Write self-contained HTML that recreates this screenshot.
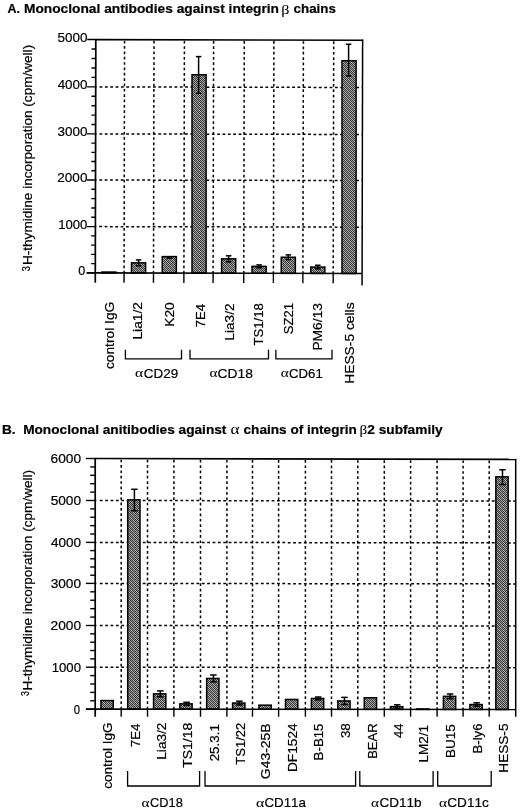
<!DOCTYPE html>
<html><head><meta charset="utf-8"><title>Monoclonal antibodies against integrin chains</title>
<style>html,body{margin:0;padding:0;background:#fff;width:520px;height:810px;overflow:hidden}svg{display:block}text{font-kerning:none}</style>
</head><body>
<svg width="520" height="810" viewBox="0 0 520 810">
<defs>
<pattern id="hatch" patternUnits="userSpaceOnUse" width="4" height="4">
<rect width="4" height="4" fill="#383838"/>
<rect x="1" y="0" width="1" height="1" fill="#b4b4b4"/>
<rect x="3" y="0" width="1" height="1" fill="#989898"/>
<rect x="0" y="1" width="1" height="1" fill="#989898"/>
<rect x="2" y="1" width="1" height="1" fill="#b4b4b4"/>
<rect x="1" y="2" width="1" height="1" fill="#989898"/>
<rect x="3" y="2" width="1" height="1" fill="#b4b4b4"/>
<rect x="0" y="3" width="1" height="1" fill="#b4b4b4"/>
<rect x="2" y="3" width="1" height="1" fill="#989898"/>
</pattern>
</defs>
<rect width="520" height="810" fill="#fff"/>
<g shape-rendering="auto">
<g transform="rotate(0.125 95.30 272.90)">
<line x1="99.15" y1="226.60" x2="362.10" y2="226.60" stroke="#000" stroke-width="1.50" stroke-dasharray="2.8 2.55"/>
<line x1="99.15" y1="180.00" x2="362.10" y2="180.00" stroke="#000" stroke-width="1.50" stroke-dasharray="2.8 2.55"/>
<line x1="99.15" y1="133.90" x2="362.10" y2="133.90" stroke="#000" stroke-width="1.50" stroke-dasharray="2.8 2.55"/>
<line x1="99.15" y1="86.90" x2="362.10" y2="86.90" stroke="#000" stroke-width="1.50" stroke-dasharray="2.8 2.55"/>
<line x1="124.05" y1="40.70" x2="124.05" y2="272.90" stroke="#000" stroke-width="1.50" stroke-dasharray="2.7 2.65"/>
<line x1="153.50" y1="40.70" x2="153.50" y2="272.90" stroke="#000" stroke-width="1.50" stroke-dasharray="2.7 2.65"/>
<line x1="183.90" y1="40.70" x2="183.90" y2="272.90" stroke="#000" stroke-width="1.50" stroke-dasharray="2.7 2.65"/>
<line x1="213.10" y1="40.70" x2="213.10" y2="272.90" stroke="#000" stroke-width="1.50" stroke-dasharray="2.7 2.65"/>
<line x1="243.75" y1="40.70" x2="243.75" y2="272.90" stroke="#000" stroke-width="1.50" stroke-dasharray="2.7 2.65"/>
<line x1="273.40" y1="40.70" x2="273.40" y2="272.90" stroke="#000" stroke-width="1.50" stroke-dasharray="2.7 2.65"/>
<line x1="302.90" y1="40.70" x2="302.90" y2="272.90" stroke="#000" stroke-width="1.50" stroke-dasharray="2.7 2.65"/>
<line x1="333.20" y1="40.70" x2="333.20" y2="272.90" stroke="#000" stroke-width="1.50" stroke-dasharray="2.7 2.65"/>
<line x1="95.30" y1="39.60" x2="362.70" y2="39.60" stroke="#000" stroke-width="1.60"/>
<line x1="362.10" y1="39.00" x2="362.10" y2="284.90" stroke="#000" stroke-width="1.50"/>
</g>
<rect x="101.80" y="272.05" width="14.10" height="0.88" fill="url(#hatch)" stroke="#000" stroke-width="1.50"/>
<rect x="131.50" y="262.85" width="14.10" height="10.14" fill="url(#hatch)" stroke="#000" stroke-width="1.50"/>
<rect x="162.25" y="256.60" width="14.10" height="16.46" fill="url(#hatch)" stroke="#000" stroke-width="1.50"/>
<rect x="192.00" y="74.75" width="14.10" height="198.38" fill="url(#hatch)" stroke="#000" stroke-width="1.50"/>
<rect x="221.60" y="258.85" width="14.10" height="14.34" fill="url(#hatch)" stroke="#000" stroke-width="1.50"/>
<rect x="252.05" y="266.35" width="14.10" height="6.91" fill="url(#hatch)" stroke="#000" stroke-width="1.50"/>
<rect x="281.25" y="257.25" width="14.10" height="16.07" fill="url(#hatch)" stroke="#000" stroke-width="1.50"/>
<rect x="310.75" y="267.05" width="14.10" height="6.34" fill="url(#hatch)" stroke="#000" stroke-width="1.50"/>
<rect x="342.00" y="60.75" width="14.10" height="212.70" fill="url(#hatch)" stroke="#000" stroke-width="1.50"/>
<line x1="138.55" y1="259.90" x2="138.55" y2="265.80" stroke="#000" stroke-width="1.50"/>
<line x1="135.80" y1="259.90" x2="141.30" y2="259.90" stroke="#000" stroke-width="1.50"/>
<line x1="135.80" y1="265.80" x2="141.30" y2="265.80" stroke="#000" stroke-width="1.50"/>
<line x1="169.30" y1="256.60" x2="169.30" y2="258.10" stroke="#000" stroke-width="1.50"/>
<line x1="166.55" y1="258.10" x2="172.05" y2="258.10" stroke="#000" stroke-width="1.50"/>
<line x1="198.60" y1="56.60" x2="198.60" y2="93.30" stroke="#000" stroke-width="1.50"/>
<line x1="195.85" y1="56.60" x2="201.35" y2="56.60" stroke="#000" stroke-width="1.50"/>
<line x1="195.85" y1="93.30" x2="201.35" y2="93.30" stroke="#000" stroke-width="1.50"/>
<line x1="228.65" y1="255.80" x2="228.65" y2="261.90" stroke="#000" stroke-width="1.50"/>
<line x1="225.90" y1="255.80" x2="231.40" y2="255.80" stroke="#000" stroke-width="1.50"/>
<line x1="225.90" y1="261.90" x2="231.40" y2="261.90" stroke="#000" stroke-width="1.50"/>
<line x1="259.10" y1="264.90" x2="259.10" y2="267.80" stroke="#000" stroke-width="1.50"/>
<line x1="256.35" y1="264.90" x2="261.85" y2="264.90" stroke="#000" stroke-width="1.50"/>
<line x1="256.35" y1="267.80" x2="261.85" y2="267.80" stroke="#000" stroke-width="1.50"/>
<line x1="288.30" y1="254.90" x2="288.30" y2="259.60" stroke="#000" stroke-width="1.50"/>
<line x1="285.55" y1="254.90" x2="291.05" y2="254.90" stroke="#000" stroke-width="1.50"/>
<line x1="285.55" y1="259.60" x2="291.05" y2="259.60" stroke="#000" stroke-width="1.50"/>
<line x1="317.80" y1="265.25" x2="317.80" y2="268.85" stroke="#000" stroke-width="1.50"/>
<line x1="315.05" y1="265.25" x2="320.55" y2="265.25" stroke="#000" stroke-width="1.50"/>
<line x1="315.05" y1="268.85" x2="320.55" y2="268.85" stroke="#000" stroke-width="1.50"/>
<line x1="348.60" y1="44.25" x2="348.60" y2="76.00" stroke="#000" stroke-width="1.50"/>
<line x1="345.85" y1="44.25" x2="351.35" y2="44.25" stroke="#000" stroke-width="1.50"/>
<line x1="345.85" y1="76.00" x2="351.35" y2="76.00" stroke="#000" stroke-width="1.50"/>
<g transform="rotate(0.125 95.30 272.90)">
<line x1="95.30" y1="39.00" x2="95.30" y2="282.70" stroke="#000" stroke-width="1.70"/>
<line x1="86.70" y1="272.90" x2="362.10" y2="272.90" stroke="#000" stroke-width="1.70"/>
<line x1="86.70" y1="272.90" x2="96.30" y2="272.90" stroke="#000" stroke-width="1.40"/>
<line x1="91.10" y1="263.64" x2="95.30" y2="263.64" stroke="#000" stroke-width="1.40"/>
<line x1="91.10" y1="254.38" x2="95.30" y2="254.38" stroke="#000" stroke-width="1.40"/>
<line x1="91.10" y1="245.12" x2="95.30" y2="245.12" stroke="#000" stroke-width="1.40"/>
<line x1="91.10" y1="235.86" x2="95.30" y2="235.86" stroke="#000" stroke-width="1.40"/>
<line x1="86.70" y1="226.60" x2="96.30" y2="226.60" stroke="#000" stroke-width="1.40"/>
<line x1="91.10" y1="217.28" x2="95.30" y2="217.28" stroke="#000" stroke-width="1.40"/>
<line x1="91.10" y1="207.96" x2="95.30" y2="207.96" stroke="#000" stroke-width="1.40"/>
<line x1="91.10" y1="198.64" x2="95.30" y2="198.64" stroke="#000" stroke-width="1.40"/>
<line x1="91.10" y1="189.32" x2="95.30" y2="189.32" stroke="#000" stroke-width="1.40"/>
<line x1="86.70" y1="180.00" x2="96.30" y2="180.00" stroke="#000" stroke-width="1.40"/>
<line x1="91.10" y1="170.78" x2="95.30" y2="170.78" stroke="#000" stroke-width="1.40"/>
<line x1="91.10" y1="161.56" x2="95.30" y2="161.56" stroke="#000" stroke-width="1.40"/>
<line x1="91.10" y1="152.34" x2="95.30" y2="152.34" stroke="#000" stroke-width="1.40"/>
<line x1="91.10" y1="143.12" x2="95.30" y2="143.12" stroke="#000" stroke-width="1.40"/>
<line x1="86.70" y1="133.90" x2="96.30" y2="133.90" stroke="#000" stroke-width="1.40"/>
<line x1="91.10" y1="124.50" x2="95.30" y2="124.50" stroke="#000" stroke-width="1.40"/>
<line x1="91.10" y1="115.10" x2="95.30" y2="115.10" stroke="#000" stroke-width="1.40"/>
<line x1="91.10" y1="105.70" x2="95.30" y2="105.70" stroke="#000" stroke-width="1.40"/>
<line x1="91.10" y1="96.30" x2="95.30" y2="96.30" stroke="#000" stroke-width="1.40"/>
<line x1="86.70" y1="86.90" x2="96.30" y2="86.90" stroke="#000" stroke-width="1.40"/>
<line x1="91.10" y1="77.42" x2="95.30" y2="77.42" stroke="#000" stroke-width="1.40"/>
<line x1="91.10" y1="67.94" x2="95.30" y2="67.94" stroke="#000" stroke-width="1.40"/>
<line x1="91.10" y1="58.46" x2="95.30" y2="58.46" stroke="#000" stroke-width="1.40"/>
<line x1="91.10" y1="48.98" x2="95.30" y2="48.98" stroke="#000" stroke-width="1.40"/>
<line x1="86.70" y1="39.50" x2="96.30" y2="39.50" stroke="#000" stroke-width="1.40"/>
<line x1="124.05" y1="272.90" x2="124.05" y2="282.70" stroke="#000" stroke-width="1.40"/>
<line x1="153.50" y1="272.90" x2="153.50" y2="282.70" stroke="#000" stroke-width="1.40"/>
<line x1="183.90" y1="272.90" x2="183.90" y2="282.70" stroke="#000" stroke-width="1.40"/>
<line x1="213.10" y1="272.90" x2="213.10" y2="282.70" stroke="#000" stroke-width="1.40"/>
<line x1="243.75" y1="272.90" x2="243.75" y2="282.70" stroke="#000" stroke-width="1.40"/>
<line x1="273.40" y1="272.90" x2="273.40" y2="282.70" stroke="#000" stroke-width="1.40"/>
<line x1="302.90" y1="272.90" x2="302.90" y2="282.70" stroke="#000" stroke-width="1.40"/>
<line x1="333.20" y1="272.90" x2="333.20" y2="282.70" stroke="#000" stroke-width="1.40"/>
</g>
<line x1="99.80" y1="667.20" x2="515.70" y2="667.70" stroke="#000" stroke-width="1.50" stroke-dasharray="2.8 2.57"/>
<line x1="99.80" y1="625.50" x2="515.70" y2="626.00" stroke="#000" stroke-width="1.50" stroke-dasharray="2.8 2.57"/>
<line x1="99.80" y1="583.40" x2="515.70" y2="583.90" stroke="#000" stroke-width="1.50" stroke-dasharray="2.8 2.57"/>
<line x1="99.80" y1="542.40" x2="515.70" y2="542.90" stroke="#000" stroke-width="1.50" stroke-dasharray="2.8 2.57"/>
<line x1="99.80" y1="500.50" x2="515.70" y2="501.00" stroke="#000" stroke-width="1.50" stroke-dasharray="2.8 2.57"/>
<line x1="121.20" y1="459.66" x2="121.20" y2="709.20" stroke="#000" stroke-width="1.50" stroke-dasharray="2.7 2.67"/>
<line x1="147.50" y1="459.71" x2="147.50" y2="709.20" stroke="#000" stroke-width="1.50" stroke-dasharray="2.7 2.67"/>
<line x1="173.90" y1="459.77" x2="173.90" y2="709.20" stroke="#000" stroke-width="1.50" stroke-dasharray="2.7 2.67"/>
<line x1="200.50" y1="459.83" x2="200.50" y2="709.20" stroke="#000" stroke-width="1.50" stroke-dasharray="2.7 2.67"/>
<line x1="226.90" y1="459.88" x2="226.90" y2="709.20" stroke="#000" stroke-width="1.50" stroke-dasharray="2.7 2.67"/>
<line x1="252.50" y1="459.94" x2="252.50" y2="709.20" stroke="#000" stroke-width="1.50" stroke-dasharray="2.7 2.67"/>
<line x1="278.60" y1="459.99" x2="278.60" y2="709.20" stroke="#000" stroke-width="1.50" stroke-dasharray="2.7 2.67"/>
<line x1="305.40" y1="460.05" x2="305.40" y2="709.20" stroke="#000" stroke-width="1.50" stroke-dasharray="2.7 2.67"/>
<line x1="331.50" y1="460.11" x2="331.50" y2="709.20" stroke="#000" stroke-width="1.50" stroke-dasharray="2.7 2.67"/>
<line x1="357.80" y1="460.16" x2="357.80" y2="709.20" stroke="#000" stroke-width="1.50" stroke-dasharray="2.7 2.67"/>
<line x1="384.30" y1="460.22" x2="384.30" y2="709.20" stroke="#000" stroke-width="1.50" stroke-dasharray="2.7 2.67"/>
<line x1="410.60" y1="460.28" x2="410.60" y2="709.20" stroke="#000" stroke-width="1.50" stroke-dasharray="2.7 2.67"/>
<line x1="437.10" y1="460.33" x2="437.10" y2="709.20" stroke="#000" stroke-width="1.50" stroke-dasharray="2.7 2.67"/>
<line x1="463.10" y1="460.39" x2="463.10" y2="709.20" stroke="#000" stroke-width="1.50" stroke-dasharray="2.7 2.67"/>
<line x1="489.20" y1="460.44" x2="489.20" y2="709.20" stroke="#000" stroke-width="1.50" stroke-dasharray="2.7 2.67"/>
<line x1="95.20" y1="458.50" x2="516.30" y2="459.40" stroke="#000" stroke-width="1.60"/>
<line x1="515.70" y1="458.80" x2="515.70" y2="716.70" stroke="#000" stroke-width="1.50"/>
<rect x="100.95" y="700.55" width="12.30" height="8.56" fill="url(#hatch)" stroke="#000" stroke-width="1.50"/>
<rect x="127.70" y="499.85" width="12.30" height="209.29" fill="url(#hatch)" stroke="#000" stroke-width="1.50"/>
<rect x="153.55" y="693.85" width="12.30" height="15.31" fill="url(#hatch)" stroke="#000" stroke-width="1.50"/>
<rect x="179.85" y="703.85" width="12.30" height="5.34" fill="url(#hatch)" stroke="#000" stroke-width="1.50"/>
<rect x="206.65" y="678.45" width="12.30" height="30.76" fill="url(#hatch)" stroke="#000" stroke-width="1.50"/>
<rect x="232.60" y="703.05" width="12.30" height="6.19" fill="url(#hatch)" stroke="#000" stroke-width="1.50"/>
<rect x="258.95" y="705.15" width="12.30" height="4.11" fill="url(#hatch)" stroke="#000" stroke-width="1.50"/>
<rect x="285.50" y="699.45" width="12.30" height="9.84" fill="url(#hatch)" stroke="#000" stroke-width="1.50"/>
<rect x="311.40" y="698.45" width="12.30" height="10.86" fill="url(#hatch)" stroke="#000" stroke-width="1.50"/>
<rect x="337.75" y="700.95" width="12.30" height="8.39" fill="url(#hatch)" stroke="#000" stroke-width="1.50"/>
<rect x="364.25" y="697.75" width="12.30" height="11.61" fill="url(#hatch)" stroke="#000" stroke-width="1.50"/>
<rect x="390.45" y="706.65" width="12.30" height="2.74" fill="url(#hatch)" stroke="#000" stroke-width="1.50"/>
<rect x="416.70" y="708.95" width="12.30" height="0.46" fill="url(#hatch)" stroke="#000" stroke-width="1.50"/>
<rect x="443.40" y="696.35" width="12.30" height="13.09" fill="url(#hatch)" stroke="#000" stroke-width="1.50"/>
<rect x="469.90" y="704.55" width="12.30" height="4.91" fill="url(#hatch)" stroke="#000" stroke-width="1.50"/>
<rect x="495.85" y="476.85" width="12.30" height="232.64" fill="url(#hatch)" stroke="#000" stroke-width="1.50"/>
<line x1="134.40" y1="489.30" x2="134.40" y2="510.80" stroke="#000" stroke-width="1.50"/>
<line x1="131.15" y1="489.30" x2="137.65" y2="489.30" stroke="#000" stroke-width="1.50"/>
<line x1="131.15" y1="510.80" x2="137.65" y2="510.80" stroke="#000" stroke-width="1.50"/>
<line x1="160.30" y1="690.90" x2="160.30" y2="696.80" stroke="#000" stroke-width="1.50"/>
<line x1="157.05" y1="690.90" x2="163.55" y2="690.90" stroke="#000" stroke-width="1.50"/>
<line x1="157.05" y1="696.80" x2="163.55" y2="696.80" stroke="#000" stroke-width="1.50"/>
<line x1="186.60" y1="702.30" x2="186.60" y2="705.40" stroke="#000" stroke-width="1.50"/>
<line x1="183.35" y1="702.30" x2="189.85" y2="702.30" stroke="#000" stroke-width="1.50"/>
<line x1="183.35" y1="705.40" x2="189.85" y2="705.40" stroke="#000" stroke-width="1.50"/>
<line x1="213.40" y1="675.00" x2="213.40" y2="681.90" stroke="#000" stroke-width="1.50"/>
<line x1="210.15" y1="675.00" x2="216.65" y2="675.00" stroke="#000" stroke-width="1.50"/>
<line x1="210.15" y1="681.90" x2="216.65" y2="681.90" stroke="#000" stroke-width="1.50"/>
<line x1="239.35" y1="701.20" x2="239.35" y2="704.90" stroke="#000" stroke-width="1.50"/>
<line x1="236.10" y1="701.20" x2="242.60" y2="701.20" stroke="#000" stroke-width="1.50"/>
<line x1="236.10" y1="704.90" x2="242.60" y2="704.90" stroke="#000" stroke-width="1.50"/>
<line x1="318.15" y1="697.00" x2="318.15" y2="699.90" stroke="#000" stroke-width="1.50"/>
<line x1="314.90" y1="697.00" x2="321.40" y2="697.00" stroke="#000" stroke-width="1.50"/>
<line x1="314.90" y1="699.90" x2="321.40" y2="699.90" stroke="#000" stroke-width="1.50"/>
<line x1="344.50" y1="697.40" x2="344.50" y2="704.50" stroke="#000" stroke-width="1.50"/>
<line x1="341.25" y1="697.40" x2="347.75" y2="697.40" stroke="#000" stroke-width="1.50"/>
<line x1="341.25" y1="704.50" x2="347.75" y2="704.50" stroke="#000" stroke-width="1.50"/>
<line x1="397.20" y1="704.80" x2="397.20" y2="708.50" stroke="#000" stroke-width="1.50"/>
<line x1="393.95" y1="704.80" x2="400.45" y2="704.80" stroke="#000" stroke-width="1.50"/>
<line x1="393.95" y1="708.50" x2="400.45" y2="708.50" stroke="#000" stroke-width="1.50"/>
<line x1="450.15" y1="694.00" x2="450.15" y2="698.70" stroke="#000" stroke-width="1.50"/>
<line x1="446.90" y1="694.00" x2="453.40" y2="694.00" stroke="#000" stroke-width="1.50"/>
<line x1="446.90" y1="698.70" x2="453.40" y2="698.70" stroke="#000" stroke-width="1.50"/>
<line x1="476.65" y1="702.80" x2="476.65" y2="706.30" stroke="#000" stroke-width="1.50"/>
<line x1="473.40" y1="702.80" x2="479.90" y2="702.80" stroke="#000" stroke-width="1.50"/>
<line x1="473.40" y1="706.30" x2="479.90" y2="706.30" stroke="#000" stroke-width="1.50"/>
<line x1="502.50" y1="469.75" x2="502.50" y2="484.60" stroke="#000" stroke-width="1.50"/>
<line x1="499.25" y1="469.75" x2="505.75" y2="469.75" stroke="#000" stroke-width="1.50"/>
<line x1="499.25" y1="484.60" x2="505.75" y2="484.60" stroke="#000" stroke-width="1.50"/>
<line x1="95.20" y1="457.90" x2="95.20" y2="716.70" stroke="#000" stroke-width="1.70"/>
<line x1="85.90" y1="709.10" x2="515.70" y2="709.50" stroke="#000" stroke-width="1.70"/>
<line x1="85.90" y1="709.20" x2="96.40" y2="709.20" stroke="#000" stroke-width="1.40"/>
<line x1="90.20" y1="700.80" x2="95.20" y2="700.80" stroke="#000" stroke-width="1.40"/>
<line x1="90.20" y1="692.40" x2="95.20" y2="692.40" stroke="#000" stroke-width="1.40"/>
<line x1="90.20" y1="684.00" x2="95.20" y2="684.00" stroke="#000" stroke-width="1.40"/>
<line x1="90.20" y1="675.60" x2="95.20" y2="675.60" stroke="#000" stroke-width="1.40"/>
<line x1="85.90" y1="667.20" x2="96.40" y2="667.20" stroke="#000" stroke-width="1.40"/>
<line x1="90.20" y1="658.86" x2="95.20" y2="658.86" stroke="#000" stroke-width="1.40"/>
<line x1="90.20" y1="650.52" x2="95.20" y2="650.52" stroke="#000" stroke-width="1.40"/>
<line x1="90.20" y1="642.18" x2="95.20" y2="642.18" stroke="#000" stroke-width="1.40"/>
<line x1="90.20" y1="633.84" x2="95.20" y2="633.84" stroke="#000" stroke-width="1.40"/>
<line x1="85.90" y1="625.50" x2="96.40" y2="625.50" stroke="#000" stroke-width="1.40"/>
<line x1="90.20" y1="617.08" x2="95.20" y2="617.08" stroke="#000" stroke-width="1.40"/>
<line x1="90.20" y1="608.66" x2="95.20" y2="608.66" stroke="#000" stroke-width="1.40"/>
<line x1="90.20" y1="600.24" x2="95.20" y2="600.24" stroke="#000" stroke-width="1.40"/>
<line x1="90.20" y1="591.82" x2="95.20" y2="591.82" stroke="#000" stroke-width="1.40"/>
<line x1="85.90" y1="583.40" x2="96.40" y2="583.40" stroke="#000" stroke-width="1.40"/>
<line x1="90.20" y1="575.20" x2="95.20" y2="575.20" stroke="#000" stroke-width="1.40"/>
<line x1="90.20" y1="567.00" x2="95.20" y2="567.00" stroke="#000" stroke-width="1.40"/>
<line x1="90.20" y1="558.80" x2="95.20" y2="558.80" stroke="#000" stroke-width="1.40"/>
<line x1="90.20" y1="550.60" x2="95.20" y2="550.60" stroke="#000" stroke-width="1.40"/>
<line x1="85.90" y1="542.40" x2="96.40" y2="542.40" stroke="#000" stroke-width="1.40"/>
<line x1="90.20" y1="534.02" x2="95.20" y2="534.02" stroke="#000" stroke-width="1.40"/>
<line x1="90.20" y1="525.64" x2="95.20" y2="525.64" stroke="#000" stroke-width="1.40"/>
<line x1="90.20" y1="517.26" x2="95.20" y2="517.26" stroke="#000" stroke-width="1.40"/>
<line x1="90.20" y1="508.88" x2="95.20" y2="508.88" stroke="#000" stroke-width="1.40"/>
<line x1="85.90" y1="500.50" x2="96.40" y2="500.50" stroke="#000" stroke-width="1.40"/>
<line x1="90.20" y1="492.10" x2="95.20" y2="492.10" stroke="#000" stroke-width="1.40"/>
<line x1="90.20" y1="483.70" x2="95.20" y2="483.70" stroke="#000" stroke-width="1.40"/>
<line x1="90.20" y1="475.30" x2="95.20" y2="475.30" stroke="#000" stroke-width="1.40"/>
<line x1="90.20" y1="466.90" x2="95.20" y2="466.90" stroke="#000" stroke-width="1.40"/>
<line x1="85.90" y1="458.50" x2="96.40" y2="458.50" stroke="#000" stroke-width="1.40"/>
<line x1="121.20" y1="709.20" x2="121.20" y2="716.70" stroke="#000" stroke-width="1.40"/>
<line x1="147.50" y1="709.20" x2="147.50" y2="716.70" stroke="#000" stroke-width="1.40"/>
<line x1="173.90" y1="709.20" x2="173.90" y2="716.70" stroke="#000" stroke-width="1.40"/>
<line x1="200.50" y1="709.20" x2="200.50" y2="716.70" stroke="#000" stroke-width="1.40"/>
<line x1="226.90" y1="709.20" x2="226.90" y2="716.70" stroke="#000" stroke-width="1.40"/>
<line x1="252.50" y1="709.20" x2="252.50" y2="716.70" stroke="#000" stroke-width="1.40"/>
<line x1="278.60" y1="709.20" x2="278.60" y2="716.70" stroke="#000" stroke-width="1.40"/>
<line x1="305.40" y1="709.20" x2="305.40" y2="716.70" stroke="#000" stroke-width="1.40"/>
<line x1="331.50" y1="709.20" x2="331.50" y2="716.70" stroke="#000" stroke-width="1.40"/>
<line x1="357.80" y1="709.20" x2="357.80" y2="716.70" stroke="#000" stroke-width="1.40"/>
<line x1="384.30" y1="709.20" x2="384.30" y2="716.70" stroke="#000" stroke-width="1.40"/>
<line x1="410.60" y1="709.20" x2="410.60" y2="716.70" stroke="#000" stroke-width="1.40"/>
<line x1="437.10" y1="709.20" x2="437.10" y2="716.70" stroke="#000" stroke-width="1.40"/>
<line x1="463.10" y1="709.20" x2="463.10" y2="716.70" stroke="#000" stroke-width="1.40"/>
<line x1="489.20" y1="709.20" x2="489.20" y2="716.70" stroke="#000" stroke-width="1.40"/>
<path d="M125.40 349.80 V358.80 H181.50 V349.80" fill="none" stroke="#000" stroke-width="1.3"/>
<path d="M190.00 349.80 V358.80 H268.50 V349.80" fill="none" stroke="#000" stroke-width="1.3"/>
<path d="M275.90 349.80 V358.80 H332.00 V349.80" fill="none" stroke="#000" stroke-width="1.3"/>
<path d="M127.60 771.00 V786.00 H199.60 V771.00" fill="none" stroke="#000" stroke-width="1.3"/>
<path d="M205.00 771.00 V786.00 H355.60 V771.00" fill="none" stroke="#000" stroke-width="1.3"/>
<path d="M359.80 771.00 V786.00 H433.10 V771.00" fill="none" stroke="#000" stroke-width="1.3"/>
<path d="M437.70 771.00 V786.00 H491.20 V771.00" fill="none" stroke="#000" stroke-width="1.3"/>
</g>
<g fill="#000" stroke="#000" stroke-width="0.2">
<text x="7.49" y="12.90" style="font-family:'Liberation Sans',sans-serif;font-weight:bold;font-style:normal;font-size:13.00px" textLength="12.45" lengthAdjust="spacingAndGlyphs">A.</text>
<text x="23.97" y="12.90" style="font-family:'Liberation Sans',sans-serif;font-weight:bold;font-style:normal;font-size:13.00px" textLength="255.05" lengthAdjust="spacingAndGlyphs">Monoclonal antibodies against integrin</text>
<text x="281.15" y="13.54" style="font-family:'Liberation Serif',serif;font-weight:normal;font-style:normal;font-size:13.46px;stroke-width:0.05px" textLength="8.22" lengthAdjust="spacingAndGlyphs">β</text>
<text x="293.57" y="12.90" style="font-family:'Liberation Sans',sans-serif;font-weight:bold;font-style:normal;font-size:13.00px" textLength="42.28" lengthAdjust="spacingAndGlyphs">chains</text>
<text x="2.09" y="433.60" style="font-family:'Liberation Sans',sans-serif;font-weight:bold;font-style:normal;font-size:13.20px" textLength="13.53" lengthAdjust="spacingAndGlyphs">B.</text>
<text x="23.18" y="433.60" style="font-family:'Liberation Sans',sans-serif;font-weight:bold;font-style:normal;font-size:13.20px" textLength="203.20" lengthAdjust="spacingAndGlyphs">Monoclonal anitibodies against</text>
<text x="230.45" y="433.66" style="font-family:'Liberation Serif',serif;font-weight:normal;font-style:normal;font-size:14.09px;stroke-width:0.05px" textLength="9.01" lengthAdjust="spacingAndGlyphs">α</text>
<text x="243.56" y="433.60" style="font-family:'Liberation Sans',sans-serif;font-weight:bold;font-style:normal;font-size:13.20px" textLength="113.28" lengthAdjust="spacingAndGlyphs">chains of integrin</text>
<text x="359.51" y="434.13" style="font-family:'Liberation Serif',serif;font-weight:normal;font-style:normal;font-size:13.51px;stroke-width:0.05px" textLength="7.71" lengthAdjust="spacingAndGlyphs">β</text>
<text x="367.32" y="433.60" style="font-family:'Liberation Sans',sans-serif;font-weight:bold;font-style:normal;font-size:13.20px" textLength="75.28" lengthAdjust="spacingAndGlyphs">2 subfamily</text>
<text x="58.22" y="228.90" style="font-family:'Liberation Sans',sans-serif;font-weight:normal;font-style:normal;font-size:13.00px" textLength="29.21" lengthAdjust="spacingAndGlyphs">1000</text>
<text x="57.32" y="182.30" style="font-family:'Liberation Sans',sans-serif;font-weight:normal;font-style:normal;font-size:13.00px" textLength="30.11" lengthAdjust="spacingAndGlyphs">2000</text>
<text x="57.50" y="136.20" style="font-family:'Liberation Sans',sans-serif;font-weight:normal;font-style:normal;font-size:13.00px" textLength="29.94" lengthAdjust="spacingAndGlyphs">3000</text>
<text x="57.70" y="89.20" style="font-family:'Liberation Sans',sans-serif;font-weight:normal;font-style:normal;font-size:13.00px" textLength="29.73" lengthAdjust="spacingAndGlyphs">4000</text>
<text x="57.46" y="41.80" style="font-family:'Liberation Sans',sans-serif;font-weight:normal;font-style:normal;font-size:13.00px" textLength="29.97" lengthAdjust="spacingAndGlyphs">5000</text>
<text x="78.20" y="275.20" style="font-family:'Liberation Sans',sans-serif;font-weight:normal;font-style:normal;font-size:13.00px" textLength="6.99" lengthAdjust="spacingAndGlyphs">0</text>
<text x="51.71" y="671.50" style="font-family:'Liberation Sans',sans-serif;font-weight:normal;font-style:normal;font-size:12.80px" textLength="29.31" lengthAdjust="spacingAndGlyphs">1000</text>
<text x="50.51" y="629.80" style="font-family:'Liberation Sans',sans-serif;font-weight:normal;font-style:normal;font-size:12.80px" textLength="30.53" lengthAdjust="spacingAndGlyphs">2000</text>
<text x="50.69" y="587.70" style="font-family:'Liberation Sans',sans-serif;font-weight:normal;font-style:normal;font-size:12.80px" textLength="30.35" lengthAdjust="spacingAndGlyphs">3000</text>
<text x="50.90" y="546.70" style="font-family:'Liberation Sans',sans-serif;font-weight:normal;font-style:normal;font-size:12.80px" textLength="30.14" lengthAdjust="spacingAndGlyphs">4000</text>
<text x="50.65" y="504.80" style="font-family:'Liberation Sans',sans-serif;font-weight:normal;font-style:normal;font-size:12.80px" textLength="30.39" lengthAdjust="spacingAndGlyphs">5000</text>
<text x="50.51" y="462.80" style="font-family:'Liberation Sans',sans-serif;font-weight:normal;font-style:normal;font-size:12.80px" textLength="30.53" lengthAdjust="spacingAndGlyphs">6000</text>
<text x="73.65" y="714.20" style="font-family:'Liberation Sans',sans-serif;font-weight:normal;font-style:normal;font-size:12.80px" textLength="6.29" lengthAdjust="spacingAndGlyphs">0</text>
<text transform="translate(31.50 263.90) rotate(-90)" x="-1.12" y="0" style="font-family:'Liberation Sans',sans-serif;font-weight:normal;font-style:normal;font-size:13.38px" textLength="220.17" lengthAdjust="spacingAndGlyphs">H-thymidine incorporation (cpm/well)</text>
<text transform="translate(29.50 270.90) rotate(-90)" x="-0.34" y="0" style="font-family:'Liberation Sans',sans-serif;font-weight:normal;font-style:normal;font-size:10.20px" textLength="5.03" lengthAdjust="spacingAndGlyphs">3</text>
<text transform="translate(31.60 689.40) rotate(-90)" x="-1.12" y="0" style="font-family:'Liberation Sans',sans-serif;font-weight:normal;font-style:normal;font-size:13.24px" textLength="220.58" lengthAdjust="spacingAndGlyphs">H-thymidine incorporation (cpm/well)</text>
<text transform="translate(28.80 695.60) rotate(-90)" x="-0.33" y="0" style="font-family:'Liberation Sans',sans-serif;font-weight:normal;font-style:normal;font-size:10.20px" textLength="4.92" lengthAdjust="spacingAndGlyphs">3</text>
<text transform="translate(114.00 368.50) rotate(-90)" x="-0.59" y="0" style="font-family:'Liberation Sans',sans-serif;font-weight:normal;font-style:normal;font-size:13.00px" textLength="67.34" lengthAdjust="spacingAndGlyphs">control IgG</text>
<text transform="translate(142.00 338.40) rotate(-90)" x="-1.13" y="0" style="font-family:'Liberation Sans',sans-serif;font-weight:normal;font-style:normal;font-size:13.00px" textLength="37.45" lengthAdjust="spacingAndGlyphs">Lia1/2</text>
<text transform="translate(174.40 325.70) rotate(-90)" x="-1.14" y="0" style="font-family:'Liberation Sans',sans-serif;font-weight:normal;font-style:normal;font-size:13.00px" textLength="24.58" lengthAdjust="spacingAndGlyphs">K20</text>
<text transform="translate(204.60 326.70) rotate(-90)" x="-0.69" y="0" style="font-family:'Liberation Sans',sans-serif;font-weight:normal;font-style:normal;font-size:13.00px" textLength="23.48" lengthAdjust="spacingAndGlyphs">7E4</text>
<text transform="translate(234.00 339.30) rotate(-90)" x="-1.11" y="0" style="font-family:'Liberation Sans',sans-serif;font-weight:normal;font-style:normal;font-size:13.00px" textLength="36.82" lengthAdjust="spacingAndGlyphs">Lia3/2</text>
<text transform="translate(263.30 345.10) rotate(-90)" x="-0.29" y="0" style="font-family:'Liberation Sans',sans-serif;font-weight:normal;font-style:normal;font-size:13.00px" textLength="42.17" lengthAdjust="spacingAndGlyphs">TS1/18</text>
<text transform="translate(293.30 333.70) rotate(-90)" x="-0.59" y="0" style="font-family:'Liberation Sans',sans-serif;font-weight:normal;font-style:normal;font-size:13.00px" textLength="31.31" lengthAdjust="spacingAndGlyphs">SZ21</text>
<text transform="translate(322.00 349.50) rotate(-90)" x="-1.14" y="0" style="font-family:'Liberation Sans',sans-serif;font-weight:normal;font-style:normal;font-size:13.00px" textLength="47.65" lengthAdjust="spacingAndGlyphs">PM6/13</text>
<text transform="translate(354.20 382.70) rotate(-90)" x="-1.14" y="0" style="font-family:'Liberation Sans',sans-serif;font-weight:normal;font-style:normal;font-size:13.00px" textLength="81.43" lengthAdjust="spacingAndGlyphs">HESS-5 cells</text>
<text transform="translate(112.40 788.20) rotate(-90)" x="-0.58" y="0" style="font-family:'Liberation Sans',sans-serif;font-weight:normal;font-style:normal;font-size:12.80px" textLength="66.41" lengthAdjust="spacingAndGlyphs">control IgG</text>
<text transform="translate(140.20 746.60) rotate(-90)" x="-0.71" y="0" style="font-family:'Liberation Sans',sans-serif;font-weight:normal;font-style:normal;font-size:12.80px" textLength="23.90" lengthAdjust="spacingAndGlyphs">7E4</text>
<text transform="translate(165.60 758.60) rotate(-90)" x="-1.12" y="0" style="font-family:'Liberation Sans',sans-serif;font-weight:normal;font-style:normal;font-size:12.80px" textLength="37.14" lengthAdjust="spacingAndGlyphs">Lia3/2</text>
<text transform="translate(191.60 767.40) rotate(-90)" x="-0.31" y="0" style="font-family:'Liberation Sans',sans-serif;font-weight:normal;font-style:normal;font-size:12.80px" textLength="44.93" lengthAdjust="spacingAndGlyphs">TS1/18</text>
<text transform="translate(218.50 760.70) rotate(-90)" x="-0.67" y="0" style="font-family:'Liberation Sans',sans-serif;font-weight:normal;font-style:normal;font-size:12.80px" textLength="37.31" lengthAdjust="spacingAndGlyphs">25.3.1</text>
<text transform="translate(244.50 764.50) rotate(-90)" x="-0.29" y="0" style="font-family:'Liberation Sans',sans-serif;font-weight:normal;font-style:normal;font-size:12.80px" textLength="42.07" lengthAdjust="spacingAndGlyphs">TS1/22</text>
<text transform="translate(269.90 778.50) rotate(-90)" x="-0.70" y="0" style="font-family:'Liberation Sans',sans-serif;font-weight:normal;font-style:normal;font-size:12.80px" textLength="55.83" lengthAdjust="spacingAndGlyphs">G43-25B</text>
<text transform="translate(296.80 770.90) rotate(-90)" x="-1.13" y="0" style="font-family:'Liberation Sans',sans-serif;font-weight:normal;font-style:normal;font-size:12.80px" textLength="48.61" lengthAdjust="spacingAndGlyphs">DF1524</text>
<text transform="translate(323.20 759.30) rotate(-90)" x="-1.09" y="0" style="font-family:'Liberation Sans',sans-serif;font-weight:normal;font-style:normal;font-size:12.80px" textLength="36.85" lengthAdjust="spacingAndGlyphs">B-B15</text>
<text transform="translate(349.90 737.60) rotate(-90)" x="-0.50" y="0" style="font-family:'Liberation Sans',sans-serif;font-weight:normal;font-style:normal;font-size:12.80px" textLength="14.90" lengthAdjust="spacingAndGlyphs">38</text>
<text transform="translate(376.80 757.80) rotate(-90)" x="-1.07" y="0" style="font-family:'Liberation Sans',sans-serif;font-weight:normal;font-style:normal;font-size:12.80px" textLength="35.40" lengthAdjust="spacingAndGlyphs">BEAR</text>
<text transform="translate(402.70 737.60) rotate(-90)" x="-0.29" y="0" style="font-family:'Liberation Sans',sans-serif;font-weight:normal;font-style:normal;font-size:12.80px" textLength="14.48" lengthAdjust="spacingAndGlyphs">44</text>
<text transform="translate(428.00 761.50) rotate(-90)" x="-1.12" y="0" style="font-family:'Liberation Sans',sans-serif;font-weight:normal;font-style:normal;font-size:12.80px" textLength="37.58" lengthAdjust="spacingAndGlyphs">LM2/1</text>
<text transform="translate(454.70 756.80) rotate(-90)" x="-1.11" y="0" style="font-family:'Liberation Sans',sans-serif;font-weight:normal;font-style:normal;font-size:12.80px" textLength="33.77" lengthAdjust="spacingAndGlyphs">BU15</text>
<text transform="translate(481.60 752.40) rotate(-90)" x="-1.08" y="0" style="font-family:'Liberation Sans',sans-serif;font-weight:normal;font-style:normal;font-size:12.80px" textLength="29.95" lengthAdjust="spacingAndGlyphs">B-ly6</text>
<text transform="translate(507.80 771.60) rotate(-90)" x="-1.12" y="0" style="font-family:'Liberation Sans',sans-serif;font-weight:normal;font-style:normal;font-size:12.80px" textLength="49.20" lengthAdjust="spacingAndGlyphs">HESS-5</text>
<text x="134.92" y="377.47" style="font-family:'Liberation Serif',serif;font-weight:normal;font-style:normal;font-size:12.85px;stroke-width:0.05px" textLength="8.11" lengthAdjust="spacingAndGlyphs">α</text>
<text x="143.83" y="377.60" style="font-family:'Liberation Sans',sans-serif;font-weight:normal;font-style:normal;font-size:13.00px" textLength="34.40" lengthAdjust="spacingAndGlyphs">CD29</text>
<text x="209.53" y="377.47" style="font-family:'Liberation Serif',serif;font-weight:normal;font-style:normal;font-size:12.85px;stroke-width:0.05px" textLength="8.00" lengthAdjust="spacingAndGlyphs">α</text>
<text x="217.61" y="377.60" style="font-family:'Liberation Sans',sans-serif;font-weight:normal;font-style:normal;font-size:13.00px" textLength="35.30" lengthAdjust="spacingAndGlyphs">CD18</text>
<text x="280.73" y="377.47" style="font-family:'Liberation Serif',serif;font-weight:normal;font-style:normal;font-size:12.85px;stroke-width:0.05px" textLength="8.00" lengthAdjust="spacingAndGlyphs">α</text>
<text x="289.14" y="377.60" style="font-family:'Liberation Sans',sans-serif;font-weight:normal;font-style:normal;font-size:13.00px" textLength="33.60" lengthAdjust="spacingAndGlyphs">CD61</text>
<text x="141.63" y="806.88" style="font-family:'Liberation Serif',serif;font-weight:normal;font-style:normal;font-size:11.81px;stroke-width:0.05px" textLength="8.00" lengthAdjust="spacingAndGlyphs">α</text>
<text x="150.06" y="807.10" style="font-family:'Liberation Sans',sans-serif;font-weight:normal;font-style:normal;font-size:12.80px" textLength="32.71" lengthAdjust="spacingAndGlyphs">CD18</text>
<text x="255.90" y="806.88" style="font-family:'Liberation Serif',serif;font-weight:normal;font-style:normal;font-size:11.81px;stroke-width:0.05px" textLength="8.34" lengthAdjust="spacingAndGlyphs">α</text>
<text x="264.42" y="807.10" style="font-family:'Liberation Sans',sans-serif;font-weight:normal;font-style:normal;font-size:12.80px" textLength="41.50" lengthAdjust="spacingAndGlyphs">CD11a</text>
<text x="371.03" y="806.88" style="font-family:'Liberation Serif',serif;font-weight:normal;font-style:normal;font-size:11.81px;stroke-width:0.05px" textLength="8.00" lengthAdjust="spacingAndGlyphs">α</text>
<text x="379.41" y="807.10" style="font-family:'Liberation Sans',sans-serif;font-weight:normal;font-style:normal;font-size:12.80px" textLength="42.17" lengthAdjust="spacingAndGlyphs">CD11b</text>
<text x="438.93" y="806.88" style="font-family:'Liberation Serif',serif;font-weight:normal;font-style:normal;font-size:11.81px;stroke-width:0.05px" textLength="8.00" lengthAdjust="spacingAndGlyphs">α</text>
<text x="447.30" y="807.10" style="font-family:'Liberation Sans',sans-serif;font-weight:normal;font-style:normal;font-size:12.80px" textLength="41.58" lengthAdjust="spacingAndGlyphs">CD11c</text>
</g>
</svg>
</body></html>
